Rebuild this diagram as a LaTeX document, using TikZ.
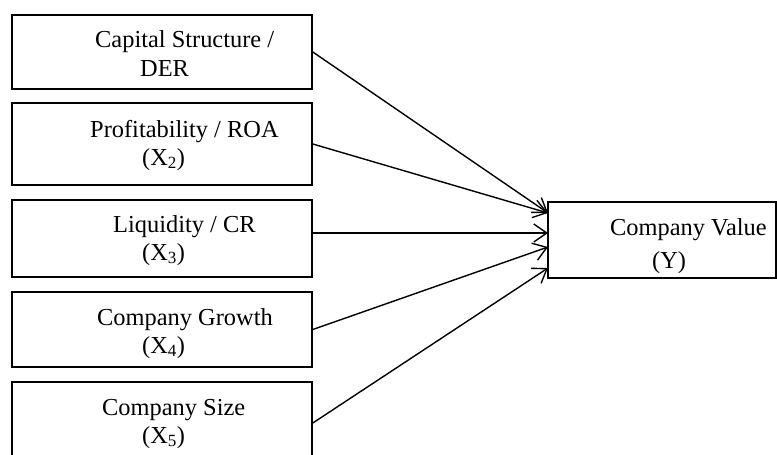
\documentclass[tikz,border=0pt]{standalone}
\usepackage{fontspec}
\setmainfont{Liberation Serif}
\usetikzlibrary{arrows.meta}
\tikzset{
  box/.style={draw=black, line width=1.6pt, inner sep=0pt, fill=white},
  lbl/.style={anchor=base west, inner sep=0pt, font=\fontsize{24.4}{28}\selectfont},
  link/.style={draw=black, line width=1.4pt, -{Straight Barb[length=13pt,width=18pt,line width=1.4pt]}}
}
\begin{document}
\begin{tikzpicture}[x=1pt,y=-1pt]
\useasboundingbox (0,0) rectangle (777,455);
\begin{scope}
\clip (0,0) rectangle (777,455);
\node[box, minimum width=300pt, minimum height=74pt] (b1) at (162,52) {};
\node[box, minimum width=300pt, minimum height=82pt] (b2) at (162,144) {};
\node[box, minimum width=300pt, minimum height=77pt] (b3) at (162,238.5) {};
\node[box, minimum width=300pt, minimum height=75pt] (b4) at (162,329.5) {};
\node[box, minimum width=300pt, minimum height=82pt] (b5) at (162,423) {};
\node[box, minimum width=228pt, minimum height=76pt] (y) at (662,240) {};
\end{scope}

\node[lbl] (l1a) at (95,47) {Capital Structure /};
\node[lbl] (l1b) at (140,76) {DER};
\node[lbl] (l2a) at (90,137) {Profitability / ROA};
\node[lbl] (l2b) at (142,165) {(X\textsubscript{2})};
\node[lbl] (l3a) at (113,232) {Liquidity / CR};
\node[lbl] (l3b) at (142,260) {(X\textsubscript{3})};
\node[lbl] (l4a) at (97,325) {Company Growth};
\node[lbl] (l4b) at (142,353) {(X\textsubscript{4})};
\node[lbl] (l5a) at (102,415) {Company Size};
\node[lbl] (l5b) at (142,443) {(X\textsubscript{5})};
\node[lbl] (lya) at (610,235) {Company Value};
\node[lbl] (lyb) at (652,268) {(Y)};

\coordinate (t1) at (548,213);
\coordinate (t3) at (548,233);
\coordinate (t4) at (548,247);
\coordinate (t5) at (548,268);

\draw[link] (b1.east) -- (t1);
\draw[link] (b2.east) -- (t1);
\draw[link] (b3.east |- t3) -- (t3);
\draw[link] (b4.east) -- (t4);
\draw[link] (b5.east) -- (t5);
\end{tikzpicture}
\end{document}
